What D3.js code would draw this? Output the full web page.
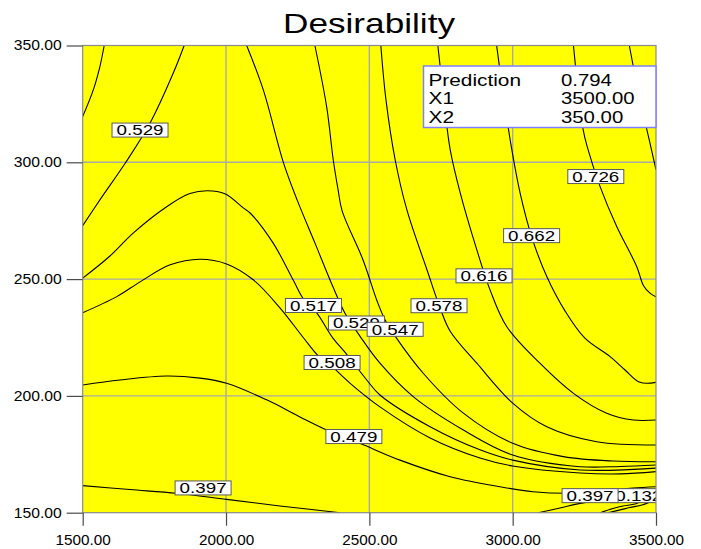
<!DOCTYPE html>
<html>
<head>
<meta charset="utf-8">
<script src="https://cdn.jsdelivr.net/npm/d3@7"></script>
<style>
  html, body { margin: 0; padding: 0; background: #fff; }
  svg { display: block; font-family: "Liberation Sans", Arial, sans-serif; }
</style>
</head>
<body>
<svg id="chart" width="701" height="549"></svg>
<script>
// ---- axis ticks ----
const X1_TICKS = [1500, 2000, 2500, 3000, 3500];
const X2_TICKS = [150, 200, 250, 300, 350];

// ---- contour lines of the desirability surface, [X1, X2] ----
const line0538  = [[1575,350],[1560,341],[1537,331],[1500,319.6]];
const line0529L = [[1854,350],[1816,338.2],[1735,316.8],[1651,300.1],[1560,283.9],[1500,272.9]];
const line0517  = [[1500,250.4],[1595,259.9],[1676,269.7],[1793,281],[1874,286.6],[1935,287.8],[1996,286.5],[2060,280.5],[2084,278.3],[2164,265.5],[2234,249.7],[2270,241.5],[2317,235.4],[2373,224.7],[2421,217.8],[2491,206.8],[2537,200.4],[2712,186.8],[2886,176.9],[3000,172.5],[3235,168.3],[3500,169.1]];
const line0508  = [[1500,235.6],[1619,242.5],[1700,248.8],[1805,256.1],[1909,258.5],[2002,256.5],[2095,249.7],[2188,237.7],[2270,224.9],[2322,217.1],[2370,212.5],[2432,205.5],[2537,195.3],[2712,182],[2886,173.4],[3000,170],[3235,167],[3375,166.6],[3500,167.6]];
const line0529R = [[2072,350],[2130,331],[2200,300],[2248,283.9],[2310,265.5],[2373,246.7],[2415,235.4],[2467,225.6],[2537,214],[2653,199.7],[2828,185.4],[3000,174.7],[3235,169.7],[3375,169.8],[3500,170.4]];
const line0547  = [[2310,350],[2351,323.8],[2374,301.1],[2391,288.2],[2405,279.2],[2478,258.2],[2527,240.6],[2555,232.5],[2590,225.6],[2688,209.7],[2828,192.6],[3000,179.7],[3177,174],[3351,172.1],[3500,171.8]];
const line0578  = [[2540,350],[2558,326.7],[2590,301.1],[2631,279.6],[2701,254],[2747,237.6],[2782,227.7],[2875,214],[3000,196.9],[3119,186.8],[3293,180.4],[3500,179]];
const line0616  = [[2739,350],[2760,326.7],[2782,305.4],[2817,286.9],[2875,262.5],[2921,245.4],[2979,229.7],[3095,214],[3212,201.1],[3328,192.6],[3421,189.7],[3500,189.7]];
const line0662  = [[2944,350],[2970,326.7],[2997,305.4],[3026,286.8],[3066,268.2],[3119,251.1],[3183,236.3],[3252,224.7],[3340,216.8],[3392,211.1],[3444,205.8],[3500,205.8]];
const line0726  = [[3212,350],[3246,313.9],[3263,305.4],[3305,289.6],[3363,272.5],[3433,255.3],[3456,247.3],[3479,244],[3500,242.4]];
const line0758  = [[3407,350],[3444,326.7],[3479,308.2],[3500,296.8]];
const line0479  = [[1500,204.7],[1630,206.8],[1793,208.5],[1909,207.6],[2002,205.4],[2142,198.3],[2258,191],[2351,185.4],[2467,179.7],[2607,172.5],[2782,165.4],[2956,161.1],[3071,159],[3188,158.3],[3305,159],[3420,160.5],[3500,161.1]];
const line0397L = [[1500,161.6],[1665,159.9],[1828,158.3],[2002,155.7],[2188,152.9],[2398,150]];
const line0397R = [[3089,150],[3165,152],[3235,154],[3305,155.4],[3375,157.2],[3500,159.7]];
const line0132A = [[3305,150],[3350,151.8],[3385,152.9],[3427,153.7],[3458,155.4],[3500,156.7]];
const line0132B = [[3332,150],[3375,151.2],[3409,152.2],[3451,153.3],[3479,154.6],[3500,155.7]];

const contourLines = [line0538, line0529L, line0517, line0508, line0529R, line0547,
  line0578, line0616, line0662, line0726, line0758, line0479, line0397L, line0397R,
  line0132A, line0132B];

// ---- contour labels (drawn in this order) ----
const labelText = ["0.529","0.517","0.508","0.479","0.397","0.529","0.547","0.578","0.616","0.662","0.726","0.132","0.397"];
const labelX1   = [1700, 2305, 2370, 2446, 1920, 2455, 2590, 2743, 2900, 3066, 3290, 3440, 3270];
const labelX2   = [313.8, 238.7, 214.3, 182.6, 160.6, 231.2, 228.5, 238.6, 251.4, 268.6, 293.9, 157.3, 157.3];

// ---- prediction readout ----
const readoutNames  = ["Prediction", "X1", "X2"];
const readoutValues = ["0.794", "3500.00", "350.00"];

const svg = d3.select("#chart");
const plot = { left: 82.7, right: 656, top: 45.5, bottom: 512.7 };

const x = d3.scaleLinear().domain([1500, 3500]).range([plot.left, plot.right]);
const y = d3.scaleLinear().domain([150, 350]).range([plot.bottom, plot.top]);

function stretch(sel, k) {
  sel.each(function () {
    const w = this.getComputedTextLength();
    this.setAttribute("textLength", (w * k).toFixed(1));
    this.setAttribute("lengthAdjust", "spacingAndGlyphs");
  });
}

svg.append("defs").append("clipPath").attr("id", "plotClip")
  .append("rect")
  .attr("x", plot.left).attr("y", plot.top)
  .attr("width", plot.right - plot.left).attr("height", plot.bottom - plot.top);

// yellow field
svg.append("rect")
  .attr("x", plot.left).attr("y", plot.top)
  .attr("width", plot.right - plot.left).attr("height", plot.bottom - plot.top)
  .attr("fill", "#ffff00");

// grid
const grid = svg.append("g").attr("stroke", "#a9a9a9").attr("stroke-width", 1.4);
grid.selectAll("line.gx").data(X1_TICKS.slice(1, -1)).join("line")
  .attr("x1", d => x(d)).attr("x2", d => x(d))
  .attr("y1", plot.top).attr("y2", plot.bottom);
grid.selectAll("line.gy").data(X2_TICKS.slice(1, -1)).join("line")
  .attr("y1", d => y(d)).attr("y2", d => y(d))
  .attr("x1", plot.left).attr("x2", plot.right);

// contours
const lineGen = d3.line()
  .x(d => x(d[0])).y(d => y(d[1]))
  .curve(d3.curveCatmullRom.alpha(0.5));

svg.append("g").attr("clip-path", "url(#plotClip)")
  .selectAll("path").data(contourLines).join("path")
  .attr("d", lineGen)
  .attr("fill", "none")
  .attr("stroke", "#000")
  .attr("stroke-width", 1.1);

// contour labels
const labels = svg.append("g").attr("clip-path", "url(#plotClip)");
labelText.forEach((t, i) => {
  const cx = x(labelX1[i]), cy = y(labelX2[i]);
  const g = labels.append("g").attr("transform", `translate(${cx},${cy})`);
  g.append("rect")
    .attr("x", -28).attr("y", -7).attr("width", 56).attr("height", 14)
    .attr("fill", "#fff").attr("stroke", "#5a5a5a").attr("stroke-width", 1);
  g.append("text")
    .attr("x", 0).attr("y", 5.2)
    .attr("text-anchor", "middle")
    .attr("font-size", 14.5)
    .attr("fill", "#000")
    .attr("textLength", 47).attr("lengthAdjust", "spacingAndGlyphs")
    .text(t);
});

// plot frame
svg.append("rect")
  .attr("x", plot.left).attr("y", plot.top)
  .attr("width", plot.right - plot.left).attr("height", plot.bottom - plot.top)
  .attr("fill", "none").attr("stroke", "#8a8a8a").attr("stroke-width", 1.2);

// axes
const yAxis = svg.append("g").attr("transform", `translate(${plot.left},0)`)
  .call(d3.axisLeft(y).tickValues(X2_TICKS).tickFormat(d3.format(".2f")).tickSize(16).tickPadding(5));
const xAxis = svg.append("g").attr("transform", `translate(0,${plot.bottom})`)
  .call(d3.axisBottom(x).tickValues(X1_TICKS).tickFormat(d3.format(".2f")).tickSize(13).tickPadding(9));

[yAxis, xAxis].forEach(a => {
  a.select(".domain").remove();
  a.selectAll(".tick line").attr("stroke", "#4a4a4a").attr("stroke-width", 1.2);
  a.selectAll(".tick text")
    .attr("font-family", "'Liberation Sans', Arial, sans-serif")
    .attr("font-size", 14).attr("fill", "#000");
});
stretch(yAxis.selectAll(".tick text"), 1.12);
stretch(xAxis.selectAll(".tick text"), 1.09);

// title
const title = svg.append("text")
  .attr("x", 369).attr("y", 33)
  .attr("text-anchor", "middle")
  .attr("font-size", 28).attr("fill", "#000")
  .text("Desirability");
title.attr("textLength", 172).attr("lengthAdjust", "spacingAndGlyphs");

// prediction readout box
const rb = svg.append("g");
rb.append("rect")
  .attr("x", 423.5).attr("y", 66).attr("width", 232.5).attr("height", 61.5)
  .attr("fill", "#fff").attr("stroke", "#8080ff").attr("stroke-width", 1.5);
readoutNames.forEach((n, i) => {
  const by = 85.5 + i * 18.6;
  const t1 = rb.append("text").attr("x", 428.5).attr("y", by)
    .attr("font-size", 16).attr("fill", "#000").text(n);
  const t2 = rb.append("text").attr("x", 561).attr("y", by)
    .attr("font-size", 16).attr("fill", "#000").text(readoutValues[i]);
  stretch(t1, 1.3);
  stretch(t2, 1.27);
});
</script>
</body>
</html>
